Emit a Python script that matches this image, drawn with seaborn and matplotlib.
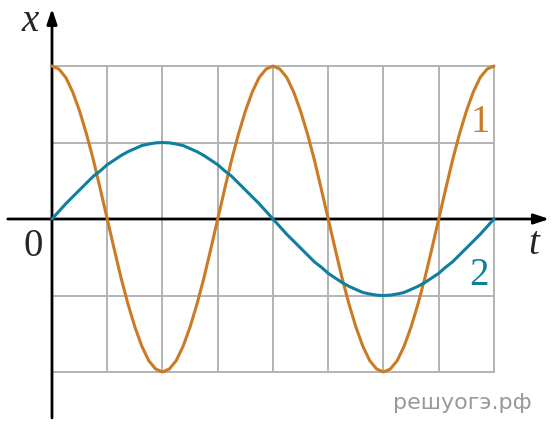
import numpy as np
import pandas as pd
import seaborn as sns
import matplotlib.pyplot as plt

# время, шаг 1/8 клетки
t = [i * 0.125 for i in range(65)]

# кривая 1 (оранжевая), значения по графику
x1_half = [2.00, 1.96, 1.85, 1.66, 1.41, 1.11, 0.77, 0.39, 0.00,
           -0.39, -0.77, -1.11, -1.41, -1.66, -1.85, -1.96, -2.00]
x1 = x1_half + x1_half[-2::-1] + x1_half[1:] + x1_half[-2::-1]

# кривая 2 (синяя)
x2_quarter = [0.00, 0.10, 0.20, 0.29, 0.38, 0.47, 0.56, 0.63, 0.71,
              0.77, 0.83, 0.88, 0.92, 0.96, 0.98, 0.995, 1.00]
x2_pos = x2_quarter + x2_quarter[-2::-1]
x2 = x2_pos + [-v for v in x2_pos[1:]]

df = pd.DataFrame({"t": t, "x1": x1, "x2": x2})

sns.set_style("white")
plt.rcParams['font.family'] = ['Liberation Serif', 'DejaVu Serif']

fig = plt.figure(figsize=(5.6, 4.31), dpi=100)
ax = fig.add_axes([0, 0, 1, 1])
ax.set_xlim(-0.941, 9.195)
ax.set_ylim(-2.758, 2.876)

# сетка
grid_c = "#b3b3b3"
for gx in range(1, 9):
    ax.plot([gx, gx], [-2, 2], color=grid_c, lw=1.4, zorder=1)
for gy in [-2, -1, 1, 2]:
    ax.plot([0, 8], [gy, gy], color=grid_c, lw=1.4, zorder=1)

# оси со стрелками
ax.annotate("", xy=(9.0, 0), xytext=(-0.8, 0),
            arrowprops=dict(arrowstyle="-|>,head_length=0.9,head_width=0.3",
                            color="black", lw=2, shrinkA=0, shrinkB=0), zorder=2)
ax.annotate("", xy=(0, 2.75), xytext=(0, -2.6),
            arrowprops=dict(arrowstyle="-|>,head_length=0.9,head_width=0.3",
                            color="black", lw=2, shrinkA=0, shrinkB=0), zorder=2)

sns.lineplot(data=df, x="t", y="x1", color="#cc7a24", lw=2.2,
             solid_joinstyle="round", ax=ax, zorder=3)
sns.lineplot(data=df, x="t", y="x2", color="#0f7fa0", lw=2.2,
             solid_joinstyle="round", ax=ax, zorder=3)
ax.axis("off")

ax.text(-0.4, 2.6, "x", fontsize=28, style="italic", ha="center", va="center")
ax.text(8.72, -0.32, "t", fontsize=28, style="italic", ha="center", va="center")
ax.text(-0.34, -0.34, "0", fontsize=28, ha="center", va="center")
ax.text(7.75, 1.27, "1", fontsize=28, color="#cc7a24", ha="center", va="center")
ax.text(7.72, -0.73, "2", fontsize=28, color="#0f7fa0", ha="center", va="center")
ax.text(7.42, -2.39, "решуогэ.рф", fontsize=16, color="#999999",
        family="DejaVu Sans", ha="center", va="center")

fig.savefig("out.png", dpi=100)
